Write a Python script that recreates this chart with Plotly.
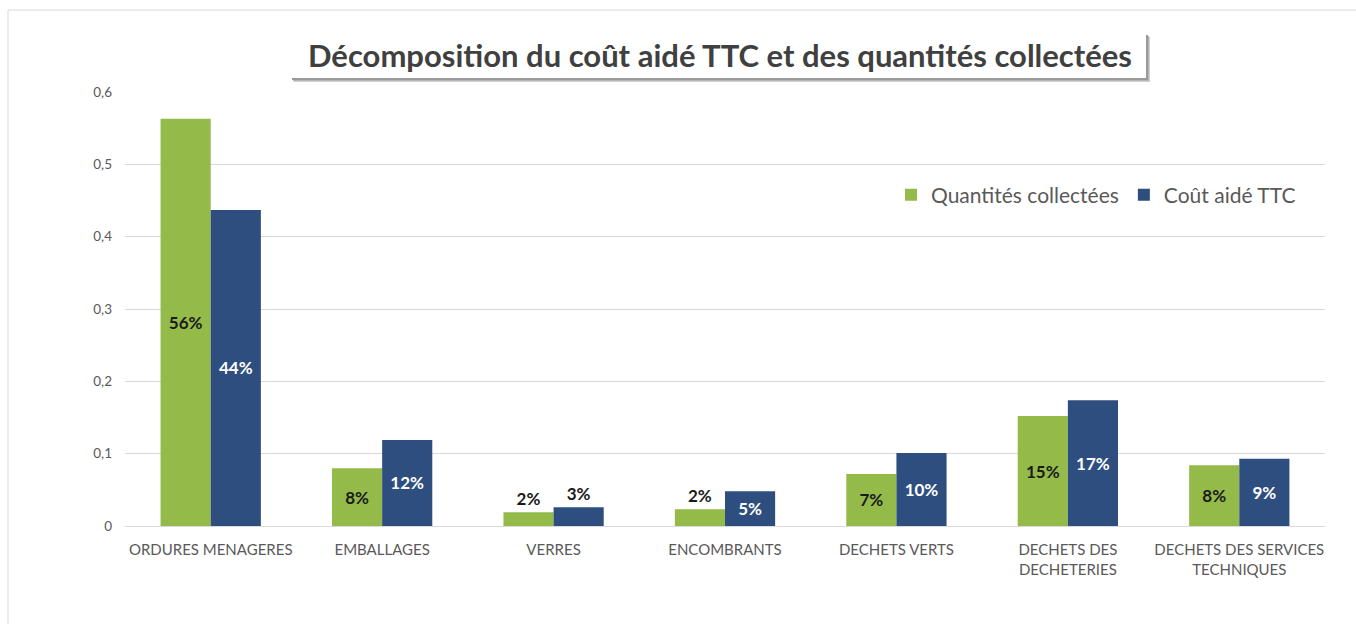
import plotly.graph_objects as go

categories = [
    "ORDURES MENAGERES",
    "EMBALLAGES",
    "VERRES",
    "ENCOMBRANTS",
    "DECHETS VERTS",
    "DECHETS DES<br>DECHETERIES",
    "DECHETS DES SERVICES<br>TECHNIQUES",
]
quantites = [0.563, 0.080, 0.019, 0.023, 0.072, 0.152, 0.084]
cout = [0.437, 0.119, 0.026, 0.048, 0.101, 0.174, 0.093]

pos_quantites = ["inside", "inside", "outside", "outside", "inside", "inside", "inside"]
pos_cout = ["inside", "inside", "outside", "inside", "inside", "inside", "inside"]

GREEN = "#94BA4A"
BLUE = "#2D4E7E"
GREY = "#595959"

label_font = dict(size=17, family="Lato", weight="bold")

fig = go.Figure()
fig.add_trace(go.Bar(
    name="Quantités collectées", x=categories, y=quantites,
    marker=dict(color=GREEN, line=dict(width=0)),
    texttemplate="%{y:.0%}", textposition=pos_quantites,
    insidetextanchor="middle", constraintext="none",
    insidetextfont=dict(color="#1a1a1a", **label_font),
    outsidetextfont=dict(color="#1a1a1a", **label_font),
    cliponaxis=False,
))
fig.add_trace(go.Bar(
    name="Coût aidé TTC", x=categories, y=cout,
    marker=dict(color=BLUE, line=dict(width=0)),
    texttemplate="%{y:.0%}", textposition=pos_cout,
    insidetextanchor="middle", constraintext="none",
    insidetextfont=dict(color="white", **label_font),
    outsidetextfont=dict(color="#1a1a1a", **label_font),
    cliponaxis=False,
))


def px_x(v):
    return (v - 125) / 1200


def px_y(v):
    return (526 - v) / 434


# Title box with a soft drop shadow
for off, col in [(4, "#d0d0d0"), (3, "#b5b5b5"), (2, "#9a9a9a")]:
    fig.add_shape(type="rect", xref="paper", yref="paper",
                  x0=px_x(290 + off), x1=px_x(1146 + off),
                  y0=px_y(78 + off), y1=px_y(33 + off),
                  fillcolor=col, line=dict(width=0), layer="above")
fig.add_shape(type="rect", xref="paper", yref="paper",
              x0=px_x(290), x1=px_x(1146), y0=px_y(78), y1=px_y(33),
              fillcolor="white", line=dict(width=0), layer="above")
fig.add_annotation(
    text="Décomposition du coût aidé TTC et des quantités collectées",
    xref="paper", yref="paper", x=px_x(720), y=px_y(55),
    showarrow=False, xanchor="center", yanchor="middle",
    font=dict(family="Lato", size=31, color="#404040", weight="bold"),
)

# Chart frame
fig.add_shape(type="line", xref="paper", yref="paper",
              x0=px_x(8), x1=1.1, y0=px_y(10), y1=px_y(10),
              line=dict(color="#d9d9d9", width=1))
fig.add_shape(type="line", xref="paper", yref="paper",
              x0=px_x(8), x1=px_x(8), y0=px_y(10), y1=-0.3,
              line=dict(color="#d9d9d9", width=1))

fig.update_layout(
    width=1356, height=624,
    margin=dict(l=125, r=31, t=92, b=98),
    paper_bgcolor="white", plot_bgcolor="white",
    barmode="group", bargap=0.415, bargroupgap=0,
    separators=", ",
    font=dict(family="Lato", color=GREY),
    legend=dict(
        orientation="h", x=0.98, xanchor="right", y=px_y(195), yanchor="middle",
        font=dict(size=21, color=GREY), bgcolor="rgba(0,0,0,0)",
        itemsizing="constant", traceorder="normal", itemwidth=30,
    ),
    xaxis=dict(
        showgrid=False, showline=True, linecolor="#d9d9d9", ticks="",
        tickfont=dict(size=15, color=GREY), ticklabelstandoff=10,
    ),
    yaxis=dict(
        range=[0, 0.6], dtick=0.1, showgrid=True, gridcolor="#d9d9d9",
        zeroline=False, showline=False, ticks="",
        tickfont=dict(size=13.5, color=GREY), ticklabelstandoff=12,
        tickformat=".1~f",
    ),
)

fig.write_html("out.html")
